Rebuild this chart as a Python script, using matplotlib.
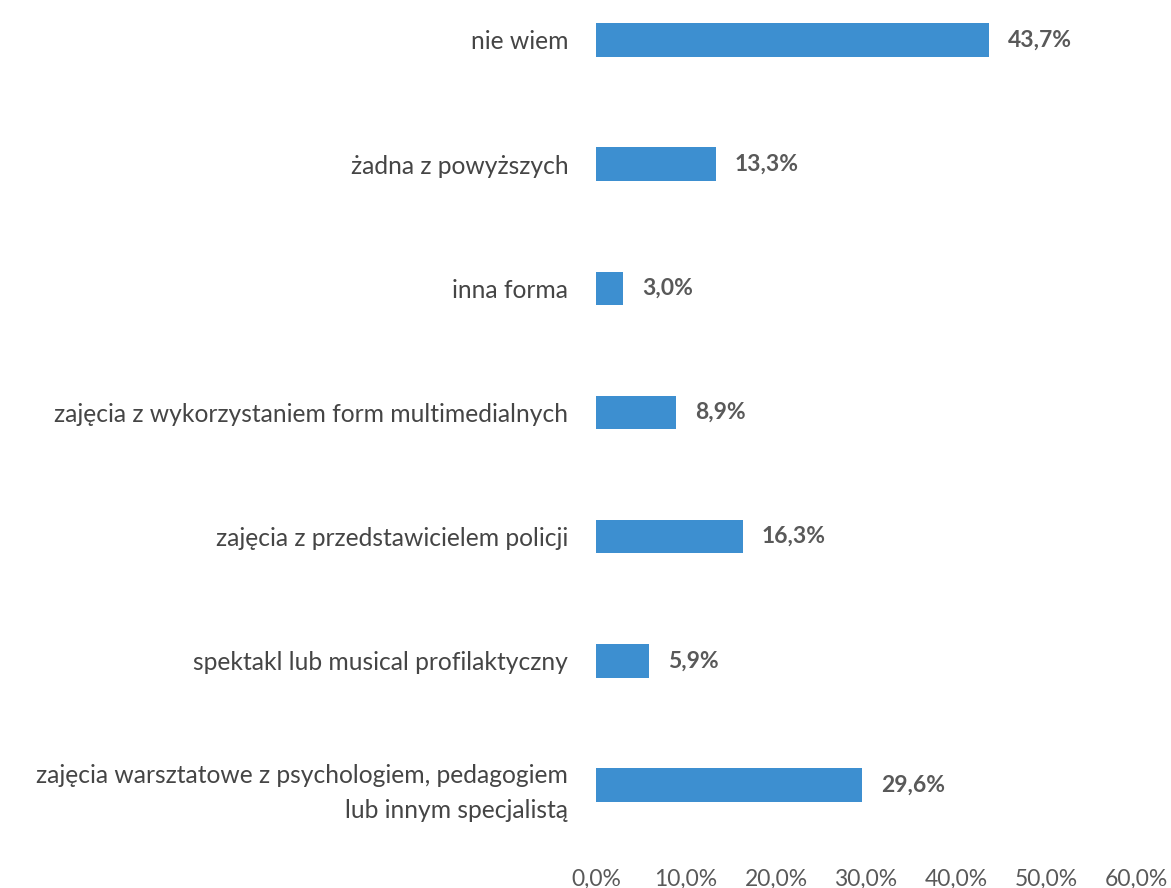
import matplotlib
matplotlib.use("Agg")
import matplotlib.pyplot as plt

categories = [
    "zajęcia warsztatowe z psychologiem, pedagogiem\nlub innym specjalistą",
    "spektakl lub musical profilaktyczny",
    "zajęcia z przedstawicielem policji",
    "zajęcia z wykorzystaniem form multimedialnych",
    "inna forma",
    "żadna z powyższych",
    "nie wiem",
]
values = [29.6, 5.9, 16.3, 8.9, 3.0, 13.3, 43.7]
xticks = [0, 10, 20, 30, 40, 50, 60]
xticklabels = ["0,0%", "10,0%", "20,0%", "30,0%", "40,0%", "50,0%", "60,0%"]

plt.rcParams['font.family'] = ['Lato', 'DejaVu Sans']

W, H = 1171, 888
fig = plt.figure(figsize=(W / 100, H / 100), dpi=100)
ax_left = 596 / W
ax_right = 1136 / W
ax_bottom = 1 - 852 / H
ax_top = 1.0
ax = fig.add_axes([ax_left, ax_bottom, ax_right - ax_left, ax_top - ax_bottom])

ypos = list(range(len(categories)))
ax.barh(ypos, values, height=0.27, color="#3d8fd0")
ax.set_xlim(0, 60)
ax.set_ylim(-0.54, 6.322)

for y, v in zip(ypos, values):
    ax.text(v + 2.1, y, f"{v:.1f}%".replace(".", ","), va="center", ha="left",
            fontsize=16.5, fontweight="bold", color="#595959")

ax.set_yticks(ypos)
ax.set_yticklabels(categories, fontsize=17.7, color="#454545", ha="right",
                   multialignment="right", linespacing=1.65)
ax.tick_params(axis="y", length=0, pad=20)
ax.set_xticks(xticks)
ax.set_xticklabels(xticklabels, fontsize=16.5, color="#595959")
ax.tick_params(axis="x", length=0, pad=12)
for s in ax.spines.values():
    s.set_visible(False)

fig.savefig("out.png", dpi=100, facecolor="white")
